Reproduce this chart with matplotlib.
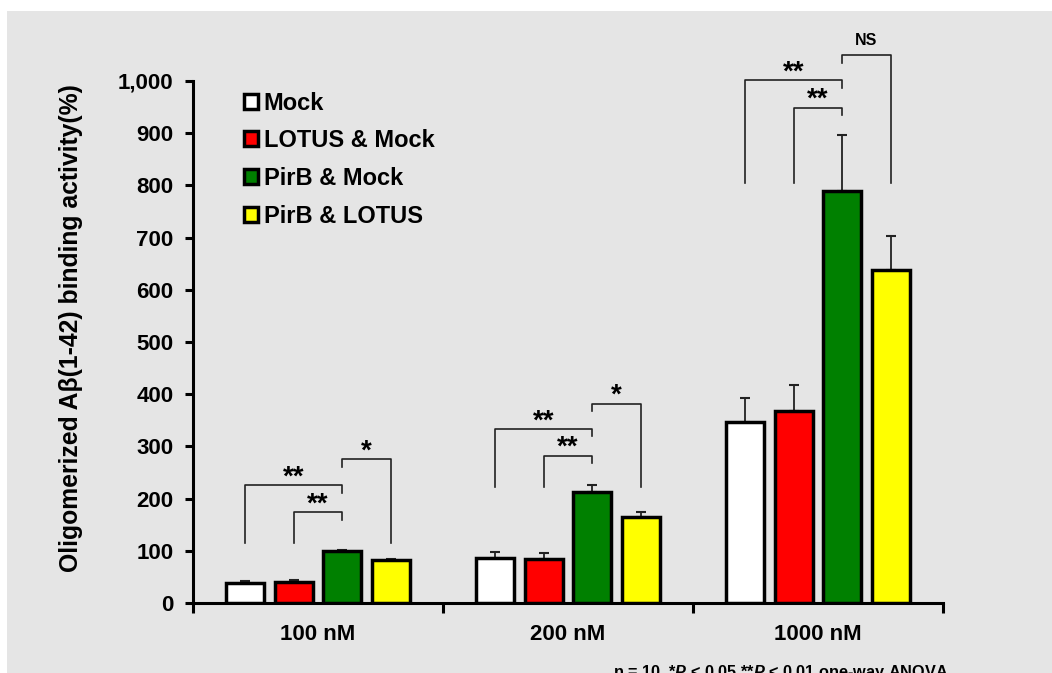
import numpy as np
import matplotlib.pyplot as plt
from matplotlib.patches import Rectangle

plt.rcParams['font.family'] = ['Liberation Sans', 'DejaVu Sans']
plt.rcParams['font.weight'] = 'bold'
plt.rcParams['mathtext.fontset'] = 'custom'
plt.rcParams['mathtext.it'] = 'Liberation Sans:bold:italic'
plt.rcParams['mathtext.rm'] = 'Liberation Sans:bold'

# data
doses = ['100 nM', '200 nM', '1000 nM']
groups = ['Mock', 'LOTUS & Mock', 'PirB & Mock', 'PirB & LOTUS']
colors = ['white', '#ff0000', '#008000', '#ffff00']
mock = [39, 86, 346]
lotus_mock = [41, 84, 368]
pirb_mock = [100, 213, 789]
pirb_lotus = [83, 165, 638]
mock_err = [4, 12, 46]
lotus_mock_err = [4, 12, 50]
pirb_mock_err = [1, 14, 108]
pirb_lotus_err = [1, 9, 66]
values = [mock, lotus_mock, pirb_mock, pirb_lotus]
errors = [mock_err, lotus_mock_err, pirb_mock_err, pirb_lotus_err]

# significance brackets: (dose, bar from, bar to, left foot, top, right foot, label)
brackets = [
    (0, 0, 2, 115, 226, 211, '**'),
    (0, 1, 2, 115, 174, 159, '**'),
    (0, 2, 3, 261, 275, 115, '*'),
    (1, 0, 2, 223, 333, 319, '**'),
    (1, 1, 2, 223, 282, 268, '**'),
    (1, 2, 3, 368, 382, 223, '*'),
    (2, 0, 2, 804, 1001, 986, '**'),
    (2, 1, 2, 804, 949, 935, '**'),
    (2, 2, 3, 1035, 1050, 804, 'NS'),
]

fig = plt.figure(figsize=(10.52, 6.73), dpi=100)
fig.patch.set_facecolor('white')
fig.patches.append(Rectangle((7 / 1052, 0), 1, (673 - 11) / 673, transform=fig.transFigure,
                             facecolor='#e5e5e5', edgecolor='none', zorder=-10))

ax = fig.add_axes([193 / 1052, 70 / 673, 750 / 1052, 574.2 / 673])
ax.set_facecolor('none')

x = np.arange(len(doses))
step = 0.194
width = 0.152
offsets = (np.arange(4) - 1.5) * step

for i in range(4):
    ax.bar(x + offsets[i], values[i], width, color=colors[i], edgecolor='black',
           linewidth=2.5, label=groups[i], zorder=3)
    ax.errorbar(x + offsets[i], values[i], yerr=[np.zeros(3), errors[i]], fmt='none',
                ecolor='#222222', elinewidth=1.3, capsize=3.5, capthick=1.5, zorder=2)

for d, a, b, foot_a, top, foot_b, lab in brackets:
    xa = d + offsets[a]
    xb = d + offsets[b]
    ax.plot([xa, xa, xb, xb], [foot_a, top, top, foot_b], color='#222222', lw=1.2, zorder=4)
    if lab == 'NS':
        ax.text((xa + xb) / 2, top + 14, lab, ha='center', va='bottom', fontsize=11.5,
                fontweight='bold')
    else:
        ax.text((xa + xb) / 2, top - 10, lab, ha='center', va='bottom', fontsize=20,
                fontweight='bold')

ax.set_xlim(-0.5, 2.5)
ax.set_ylim(0, 1100)
ax.set_yticks(np.arange(0, 1001, 100))
ax.set_yticklabels(['{:,}'.format(v) for v in range(0, 1001, 100)])
ax.set_xticks(x)
ax.set_xticklabels(doses)
ax.set_xticks([-0.5, 0.5, 1.5, 2.5], minor=True)

for s in ['top', 'right']:
    ax.spines[s].set_visible(False)
ax.spines['left'].set_bounds(0, 1000)
ax.spines['left'].set_linewidth(2.2)
ax.spines['bottom'].set_linewidth(2.2)

ax.tick_params(axis='y', direction='out', length=6, width=2.2, labelsize=16, pad=8)
ax.tick_params(axis='x', which='major', length=0, labelsize=16, pad=15)
ax.tick_params(axis='x', which='minor', direction='out', length=7, width=2.2)

ax.set_ylabel('Oligomerized A\u03b2(1-42) binding activity(%)', fontsize=17.8, fontweight='bold')
ax.yaxis.set_label_coords(-0.146, 0.478)

ax.legend(loc='upper left', bbox_to_anchor=(0.055, 0.907), frameon=False, fontsize=17,
          handlelength=0.6, handleheight=0.6, handletextpad=0.25, labelspacing=0.62,
          borderaxespad=0.0)

fig.text(613 / 1052, -4 / 673, 'n = 10, *$P$ < 0.05 **$P$ < 0.01 one-way ANOVA',
         fontsize=11.7, fontweight='bold', ha='left', va='baseline')

fig.savefig('out.png', dpi=100, facecolor=fig.get_facecolor())
